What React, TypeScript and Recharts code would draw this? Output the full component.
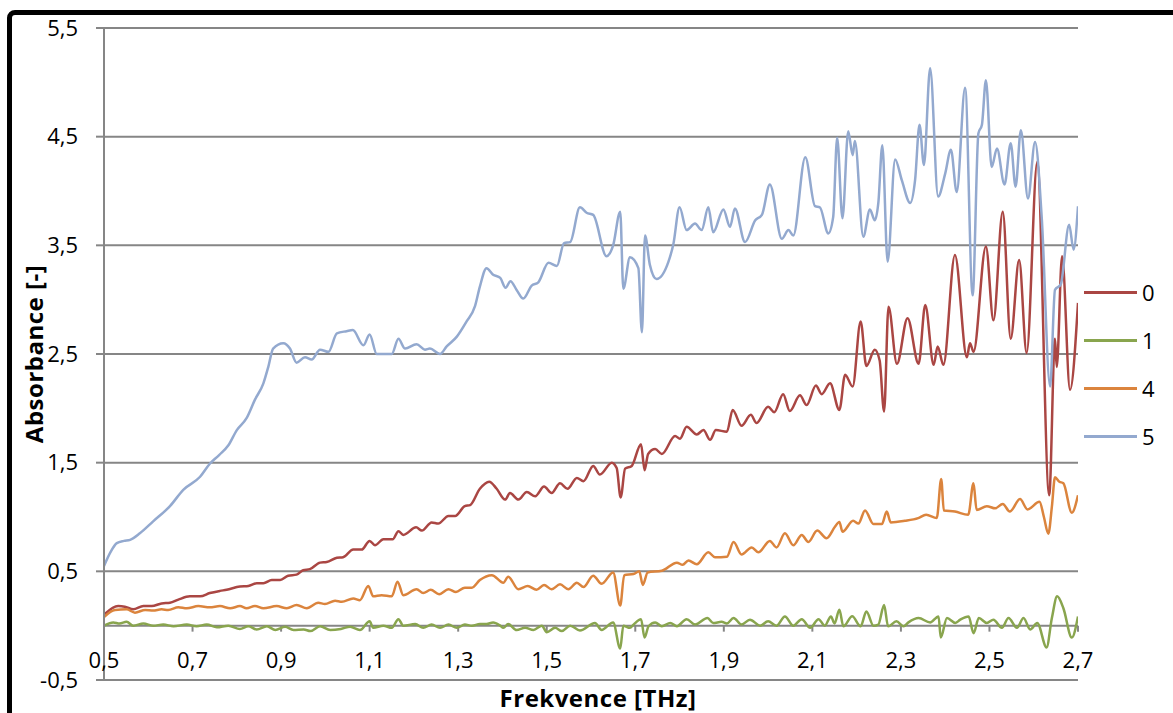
import React from "react";
import {
    LineChart,
    Line,
    XAxis,
    YAxis,
    CartesianGrid,
    ReferenceLine,
    Legend,
} from "recharts";

// axis ticks
const freqTicks = [0.5, 0.7, 0.9, 1.1, 1.3, 1.5, 1.7, 1.9, 2.1, 2.3, 2.5, 2.7];
const absTicks = [-0.5, 0.5, 1.5, 2.5, 3.5, 4.5, 5.5];

// series "0"
const freq0 = [0.5, 0.532, 0.547, 0.566, 0.589, 0.608, 0.63, 0.649, 0.668, 0.694, 0.717, 0.739, 0.762, 0.777, 0.807, 0.826, 0.845, 0.86, 0.879, 0.898, 0.916, 0.935, 0.95, 0.965, 0.988, 1.003, 1.026, 1.04, 1.063, 1.082, 1.1, 1.112, 1.131, 1.152, 1.165, 1.176, 1.205, 1.218, 1.24, 1.255, 1.278, 1.293, 1.315, 1.327, 1.349, 1.37, 1.387, 1.406, 1.417, 1.436, 1.455, 1.474, 1.494, 1.511, 1.53, 1.547, 1.568, 1.583, 1.605, 1.62, 1.647, 1.658, 1.667, 1.677, 1.692, 1.713, 1.721, 1.729, 1.745, 1.76, 1.79, 1.801, 1.816, 1.839, 1.854, 1.869, 1.882, 1.907, 1.92, 1.94, 1.961, 1.974, 2.0, 2.014, 2.034, 2.049, 2.072, 2.087, 2.108, 2.121, 2.14, 2.161, 2.174, 2.191, 2.209, 2.222, 2.241, 2.252, 2.262, 2.272, 2.291, 2.315, 2.34, 2.355, 2.374, 2.383, 2.396, 2.422, 2.449, 2.456, 2.464, 2.492, 2.509, 2.53, 2.548, 2.567, 2.584, 2.608, 2.635, 2.648, 2.652, 2.664, 2.682, 2.7];
const abs0 = [0.1, 0.18, 0.175, 0.15, 0.18, 0.18, 0.205, 0.21, 0.24, 0.27, 0.27, 0.3, 0.32, 0.33, 0.36, 0.365, 0.39, 0.39, 0.42, 0.42, 0.46, 0.47, 0.51, 0.52, 0.58, 0.585, 0.625, 0.63, 0.7, 0.7, 0.78, 0.74, 0.795, 0.795, 0.87, 0.835, 0.905, 0.875, 0.95, 0.94, 1.01, 1.01, 1.1, 1.11, 1.26, 1.325, 1.26, 1.16, 1.22, 1.16, 1.23, 1.19, 1.28, 1.22, 1.31, 1.26, 1.36, 1.33, 1.47, 1.39, 1.5, 1.45, 1.18, 1.445, 1.47, 1.67, 1.43, 1.58, 1.625, 1.58, 1.745, 1.72, 1.83, 1.76, 1.8, 1.71, 1.8, 1.785, 1.985, 1.84, 1.94, 1.865, 2.015, 1.965, 2.13, 1.975, 2.12, 2.03, 2.21, 2.13, 2.23, 1.985, 2.31, 2.2, 2.8, 2.39, 2.54, 2.44, 1.97, 2.935, 2.41, 2.83, 2.41, 2.95, 2.4, 2.57, 2.4, 3.41, 2.47, 2.6, 2.52, 3.49, 2.81, 3.81, 2.64, 3.365, 2.51, 4.27, 1.2, 2.64, 2.38, 3.4, 2.17, 2.97];

// series "1"
const freq1 = [0.5, 0.521, 0.535, 0.551, 0.566, 0.589, 0.611, 0.634, 0.657, 0.687, 0.709, 0.732, 0.755, 0.781, 0.807, 0.826, 0.845, 0.868, 0.887, 0.909, 0.928, 0.951, 0.966, 0.988, 1.011, 1.035, 1.056, 1.078, 1.1, 1.108, 1.131, 1.15, 1.165, 1.176, 1.203, 1.221, 1.24, 1.259, 1.278, 1.297, 1.315, 1.331, 1.349, 1.364, 1.379, 1.395, 1.402, 1.413, 1.432, 1.451, 1.47, 1.489, 1.5, 1.519, 1.534, 1.553, 1.575, 1.609, 1.624, 1.65, 1.666, 1.673, 1.688, 1.696, 1.713, 1.721, 1.73, 1.745, 1.76, 1.779, 1.794, 1.816, 1.835, 1.863, 1.876, 1.895, 1.907, 1.922, 1.94, 1.959, 1.982, 2.0, 2.019, 2.038, 2.057, 2.076, 2.095, 2.114, 2.128, 2.142, 2.15, 2.161, 2.17, 2.19, 2.209, 2.222, 2.238, 2.249, 2.262, 2.271, 2.29, 2.306, 2.317, 2.34, 2.366, 2.385, 2.39, 2.404, 2.423, 2.434, 2.453, 2.464, 2.476, 2.494, 2.509, 2.528, 2.543, 2.562, 2.577, 2.592, 2.608, 2.629, 2.641, 2.653, 2.667, 2.686, 2.7];
const abs1 = [0, 0.03, 0.02, 0.035, 0, 0.02, 0, 0.01, -0.005, 0.01, -0.005, 0.01, -0.015, 0, -0.03, -0.005, -0.035, -0.005, -0.04, -0.01, -0.04, -0.035, -0.05, -0.005, -0.04, -0.03, -0.01, -0.04, 0.04, -0.02, 0, -0.02, 0.06, 0, 0.015, -0.02, 0.01, -0.02, 0.01, -0.02, 0.01, 0, 0.015, 0.015, 0.03, 0, -0.02, 0.015, -0.04, -0.02, -0.04, 0, -0.06, -0.02, -0.05, 0, -0.045, 0.025, -0.04, 0.03, -0.21, 0, -0.02, 0.01, 0.06, -0.11, -0.005, 0.03, -0.005, 0.025, -0.005, 0.06, 0.01, 0.07, 0.025, 0.035, 0.02, 0.07, 0.01, 0.055, 0, 0.04, 0, 0.085, 0, 0.06, -0.02, 0.06, 0, 0.085, 0.02, 0.147, -0.006, 0.086, -0.006, 0.13, 0, 0.01, 0.19, -0.006, 0.04, -0.006, 0.03, 0.07, 0.03, 0.085, -0.11, 0.07, 0.025, 0.055, 0.085, -0.07, 0.07, 0.025, 0.055, -0.02, 0.07, -0.02, 0.07, -0.035, 0.025, -0.2, 0.07, 0.27, 0.16, -0.11, 0.085];

// series "4"
const freq4 = [0.5, 0.525, 0.551, 0.57, 0.593, 0.611, 0.63, 0.645, 0.668, 0.687, 0.713, 0.739, 0.762, 0.785, 0.807, 0.822, 0.841, 0.86, 0.89, 0.913, 0.935, 0.958, 0.984, 0.999, 1.022, 1.037, 1.063, 1.078, 1.097, 1.108, 1.127, 1.15, 1.163, 1.176, 1.206, 1.221, 1.238, 1.257, 1.278, 1.295, 1.315, 1.331, 1.349, 1.376, 1.402, 1.413, 1.436, 1.457, 1.477, 1.494, 1.511, 1.53, 1.549, 1.568, 1.583, 1.605, 1.624, 1.65, 1.666, 1.675, 1.696, 1.709, 1.717, 1.728, 1.76, 1.794, 1.807, 1.82, 1.839, 1.865, 1.88, 1.907, 1.922, 1.94, 1.963, 1.978, 2.004, 2.019, 2.038, 2.057, 2.076, 2.091, 2.111, 2.132, 2.151, 2.161, 2.168, 2.192, 2.204, 2.219, 2.238, 2.257, 2.268, 2.277, 2.309, 2.339, 2.357, 2.381, 2.391, 2.397, 2.422, 2.452, 2.464, 2.471, 2.494, 2.513, 2.53, 2.546, 2.569, 2.586, 2.613, 2.623, 2.633, 2.641, 2.648, 2.658, 2.667, 2.686, 2.7];
const abs4 = [0.08, 0.145, 0.15, 0.12, 0.145, 0.14, 0.15, 0.145, 0.17, 0.16, 0.18, 0.17, 0.18, 0.16, 0.18, 0.16, 0.18, 0.16, 0.18, 0.16, 0.19, 0.16, 0.21, 0.2, 0.23, 0.22, 0.25, 0.235, 0.365, 0.27, 0.28, 0.27, 0.405, 0.28, 0.335, 0.3, 0.33, 0.29, 0.335, 0.31, 0.35, 0.35, 0.42, 0.465, 0.395, 0.45, 0.335, 0.365, 0.33, 0.375, 0.335, 0.38, 0.335, 0.395, 0.355, 0.46, 0.385, 0.49, 0.185, 0.465, 0.475, 0.5, 0.375, 0.49, 0.505, 0.58, 0.56, 0.6, 0.565, 0.675, 0.63, 0.635, 0.77, 0.655, 0.72, 0.675, 0.78, 0.72, 0.85, 0.74, 0.835, 0.77, 0.875, 0.805, 0.91, 0.955, 0.865, 0.965, 0.94, 1.06, 0.935, 0.935, 1.05, 0.95, 0.965, 0.99, 1.02, 0.99, 1.35, 1.06, 1.05, 1.02, 1.31, 1.065, 1.1, 1.08, 1.12, 1.05, 1.165, 1.07, 1.14, 1.0, 0.845, 1.095, 1.365, 1.325, 1.31, 1.04, 1.2];

// series "5"
const freq5 = [0.5, 0.515, 0.529, 0.545, 0.559, 0.581, 0.611, 0.649, 0.679, 0.717, 0.739, 0.76, 0.781, 0.8, 0.822, 0.841, 0.86, 0.871, 0.882, 0.905, 0.92, 0.935, 0.954, 0.969, 0.988, 1.007, 1.026, 1.048, 1.062, 1.086, 1.1, 1.116, 1.15, 1.165, 1.18, 1.206, 1.225, 1.236, 1.259, 1.274, 1.297, 1.319, 1.338, 1.349, 1.364, 1.379, 1.395, 1.407, 1.418, 1.432, 1.447, 1.466, 1.481, 1.504, 1.523, 1.539, 1.553, 1.575, 1.59, 1.605, 1.635, 1.65, 1.666, 1.673, 1.688, 1.707, 1.715, 1.722, 1.733, 1.748, 1.775, 1.786, 1.8, 1.816, 1.835, 1.85, 1.865, 1.876, 1.899, 1.914, 1.925, 1.948, 1.971, 1.986, 2.004, 2.031, 2.046, 2.057, 2.084, 2.106, 2.117, 2.136, 2.147, 2.156, 2.168, 2.181, 2.191, 2.196, 2.215, 2.23, 2.241, 2.249, 2.258, 2.27, 2.287, 2.302, 2.321, 2.332, 2.342, 2.352, 2.366, 2.384, 2.4, 2.413, 2.426, 2.445, 2.462, 2.475, 2.483, 2.492, 2.505, 2.517, 2.534, 2.548, 2.559, 2.571, 2.587, 2.603, 2.618, 2.637, 2.648, 2.661, 2.68, 2.69, 2.7];
const abs5 = [0.55, 0.68, 0.76, 0.78, 0.79, 0.85, 0.96, 1.1, 1.25, 1.37, 1.49, 1.57, 1.66, 1.8, 1.91, 2.08, 2.23, 2.38, 2.55, 2.6, 2.55, 2.42, 2.47, 2.45, 2.54, 2.52, 2.69, 2.71, 2.72, 2.58, 2.68, 2.5, 2.5, 2.64, 2.55, 2.59, 2.54, 2.55, 2.5, 2.57, 2.66, 2.8, 2.94, 3.12, 3.29, 3.23, 3.2, 3.11, 3.17, 3.09, 3.01, 3.13, 3.16, 3.34, 3.31, 3.52, 3.53, 3.85, 3.8, 3.78, 3.4, 3.5, 3.81, 3.1, 3.39, 3.29, 2.7, 3.59, 3.32, 3.19, 3.35, 3.51, 3.85, 3.64, 3.7, 3.64, 3.85, 3.62, 3.83, 3.67, 3.84, 3.53, 3.73, 3.78, 4.06, 3.56, 3.64, 3.59, 4.31, 3.86, 3.85, 3.61, 3.76, 4.49, 3.75, 4.55, 4.33, 4.46, 3.58, 3.83, 3.73, 3.89, 4.42, 3.35, 4.29, 4.1, 3.89, 4.1, 4.61, 4.24, 5.13, 3.95, 4.16, 4.38, 3.99, 4.95, 3.04, 4.53, 4.61, 5.02, 4.22, 4.39, 4.06, 4.44, 4.04, 4.56, 3.93, 4.45, 3.76, 2.2, 3.09, 3.14, 3.69, 3.46, 3.86];

const FONT = "'Open Sans', sans-serif";
const GRID = "#868686";

interface Point {
    f: number;
    a: number;
}

const toPoints = (freq: number[], abs: number[]): Point[] =>
    freq.map((f, i) => ({ f, a: abs[i] }));

const series = [
    { name: "0", color: "#AA4643", data: toPoints(freq0, abs0) },
    { name: "1", color: "#89A54E", data: toPoints(freq1, abs1) },
    { name: "4", color: "#DB843D", data: toPoints(freq4, abs4) },
    { name: "5", color: "#93A9CF", data: toPoints(freq5, abs5) },
];

// Excel-style decimal comma
const fmt = (v: number) => v.toFixed(1).replace(".", ",");

const titleStyle = {
    fontFamily: FONT,
    fontSize: 24,
    fontWeight: 700,
    letterSpacing: 0.5,
    fill: "#000",
};

// x labels sit just under the zero line, not under the plot
const FreqTick = (props: any) => {
    const { x, y, payload } = props;
    return (
        <text
            x={x}
            y={y - 12}
            textAnchor="middle"
            fontSize={22}
            fontFamily={FONT}
            fill="#000"
        >
            {fmt(payload.value)}
        </text>
    );
};

const LegendBox = () => (
    <div style={{ fontFamily: FONT, fontSize: 22, color: "#000" }}>
        {series.map((s) => (
            <div
                key={s.name}
                style={{ display: "flex", alignItems: "center", height: 48 }}
            >
                <div
                    style={{
                        width: 53,
                        height: 3,
                        background: s.color,
                        marginRight: 5,
                    }}
                />
                <span>{s.name}</span>
            </div>
        ))}
    </div>
);

const App: React.FC = () => {
    return (
        <div
            style={{
                position: "fixed",
                left: 0,
                top: 0,
                width: 1173,
                height: 713,
                overflow: "hidden",
                background: "#fff",
            }}
        >
            {/* black frame, cut off at right and bottom */}
            <div
                style={{
                    position: "absolute",
                    left: 7,
                    top: 10,
                    width: 1400,
                    height: 900,
                    border: "5px solid #000",
                    borderRadius: 8,
                }}
            />
            <div style={{ position: "absolute", left: 0, top: 0 }}>
                <LineChart
                    width={1173}
                    height={713}
                    margin={{ top: 28, right: 95, bottom: 0, left: 0 }}
                >
                    <CartesianGrid
                        vertical={false}
                        stroke={GRID}
                        strokeWidth={2}
                    />
                    <XAxis
                        type="number"
                        dataKey="f"
                        domain={[0.5, 2.7]}
                        ticks={freqTicks}
                        height={33}
                        axisLine={false}
                        tickLine={false}
                        tickSize={0}
                        tickMargin={0}
                        tick={<FreqTick />}
                        interval={0}
                        allowDataOverflow
                        label={{
                            value: "Frekvence [THz]",
                            position: "insideBottom",
                            offset: 6,
                            dx: 7,
                            style: titleStyle,
                        }}
                    />
                    <YAxis
                        type="number"
                        domain={[-0.5, 5.5]}
                        ticks={absTicks}
                        width={104}
                        interval={0}
                        axisLine={{ stroke: GRID, strokeWidth: 2 }}
                        tickLine={{ stroke: GRID, strokeWidth: 2 }}
                        tickSize={8}
                        tickMargin={18}
                        tickFormatter={fmt}
                        tick={{ fontFamily: FONT, fontSize: 22, fill: "#000" }}
                        label={{
                            value: "Absorbance [-]",
                            angle: -90,
                            position: "insideLeft",
                            offset: 28,
                            dx: 6,
                            style: { ...titleStyle, textAnchor: "middle" },
                        }}
                    />
                    {/* horizontal axis drawn through zero */}
                    <ReferenceLine y={0} stroke={GRID} strokeWidth={2} />
                    {freqTicks.map((t) => (
                        <ReferenceLine
                            key={"t" + t}
                            segment={[
                                { x: t, y: 0 },
                                { x: t, y: -0.055 },
                            ]}
                            stroke={GRID}
                            strokeWidth={2}
                        />
                    ))}
                    {series.map((s) => (
                        <Line
                            key={s.name}
                            name={s.name}
                            data={s.data}
                            dataKey="a"
                            type="monotone"
                            stroke={s.color}
                            strokeWidth={2.5}
                            dot={false}
                            activeDot={false}
                            isAnimationActive={false}
                        />
                    ))}
                    <Legend
                        layout="vertical"
                        align="center"
                        verticalAlign="middle"
                        wrapperStyle={{ left: 1084, top: 268, width: 90 }}
                        content={<LegendBox />}
                    />
                </LineChart>
            </div>
        </div>
    );
};

export default App;
